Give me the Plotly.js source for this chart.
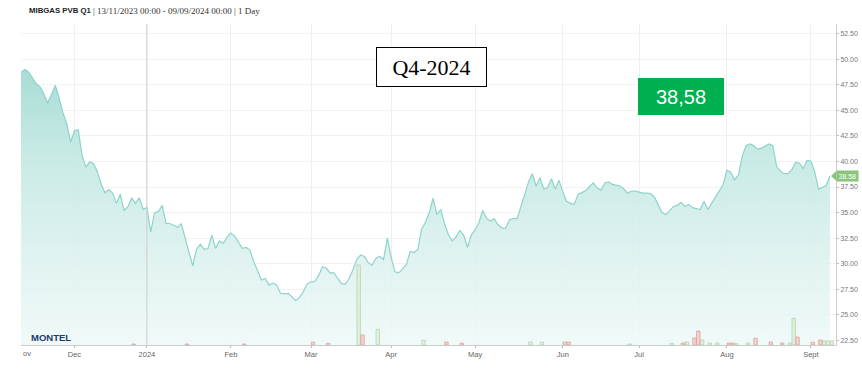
<!DOCTYPE html>
<html><head><meta charset="utf-8">
<script src="https://cdn.plot.ly/plotly-3.0.1.min.js"></script>
<style>html,body{margin:0;padding:0;background:#fff}#chart{width:862px;height:369px}</style>
</head><body><div id="chart"></div>
<script>
// ---- data ----
const startDate = '2023-11-13';
const holidays = ['2023-12-25', '2023-12-26', '2024-01-01'];
const priceValues = [
 48.73,49.0,48.75,48.2,47.6,47.3,46.6,45.7,46.5,47.45,
 46.2,44.75,43.7,41.9,43.0,43.1,40.6,39.45,39.94,39.8,
 39.0,37.8,36.93,37.25,36.9,35.9,36.8,35.22,35.55,36.4,
 35.9,36.45,35.3,35.5,33.1,34.96,35.1,35.7,33.93,33.93,
 33.75,33.55,33.9,32.45,31.25,29.79,31.4,31.9,31.4,31.48,
 32.8,31.5,32.2,32.0,32.6,33.0,32.7,32.1,31.5,31.6,
 31.3,30.2,29.3,28.4,28.55,27.9,28.1,27.9,27.1,27.05,
 27.1,26.7,26.4,26.7,27.25,28.0,28.2,28.25,28.85,29.7,
 29.55,29.1,29.1,28.55,28.05,28.0,28.55,29.4,30.4,30.85,
 30.7,30.1,29.85,30.5,30.7,30.4,32.5,30.6,29.2,29.1,
 29.55,29.9,31.2,31.09,31.4,33.4,34.05,35.0,36.4,34.8,
 35.3,33.9,32.85,32.23,32.6,33.25,32.8,31.6,32.8,33.3,
 34.0,35.2,34.45,34.15,34.4,33.8,33.5,33.45,34.3,34.41,
 34.41,35.5,36.75,38.0,38.8,37.6,38.4,37.3,37.45,38.3,
 37.3,38.15,37.0,36.1,35.9,35.8,36.8,36.95,37.15,37.55,
 37.9,37.4,37.2,37.9,38.0,37.75,37.65,37.6,37.3,36.9,
 37.1,37.1,37.0,36.9,36.9,36.85,36.5,35.7,35.0,34.8,
 35.2,35.6,35.7,36.0,35.6,35.8,35.48,35.4,35.3,36.1,
 35.3,35.9,36.5,37.15,37.75,39.15,38.95,38.2,38.65,40.5,
 41.55,41.72,41.55,41.2,41.3,41.5,41.72,41.55,39.55,39.05,
 38.8,38.8,39.2,39.9,39.85,39.3,40.1,40.05,39.0,37.3,
 37.5,37.65,38.58
];
const volUpDates = ['2024-03-19','2024-03-26','2024-04-11','2024-05-21','2024-05-24','2024-06-26',
 '2024-07-11','2024-07-17','2024-07-23','2024-07-25','2024-07-29','2024-08-05','2024-08-08',
 '2024-08-23','2024-08-26','2024-09-05','2024-09-06','2024-09-09'];
const volUpValues = [80,15.7,4.7,3,2.7,1,1.7,3,5,2,2,1.3,2,2,26.7,4,4,4];
const volDownDates = ['2023-12-22','2024-01-16','2024-02-06','2024-03-01','2024-03-07','2024-03-20',
 '2024-04-19','2024-04-25','2024-06-03','2024-06-04','2024-07-16','2024-07-19','2024-07-22',
 '2024-08-01','2024-08-02','2024-08-12','2024-08-16','2024-08-21','2024-08-27','2024-09-02','2024-09-04'];
const volDownValues = [1,1,1,2.7,1.7,10,3,2,3,3,2,7,14,2,2,6.7,3,2,8,2.7,5];
const monthTickDates = ['2023-12-01','2024-01-02','2024-02-01','2024-03-01','2024-04-01','2024-05-01',
 '2024-06-03','2024-07-01','2024-08-01','2024-09-02'];
const monthTickLabels = ['Dec','2024','Feb','Mar','Apr','May','Jun','Jul','Aug','Sept'];
const yTickValues = [22.5,25,27.5,30,32.5,35,37.5,40,42.5,45,47.5,50,52.5];
const seriesTitle = 'MIBGAS PVB Q1';
const subtitle = '| 13/11/2023 00:00 - 09/09/2024 00:00 | 1 Day';
const contractLabel = 'Q4-2024';
const lastLabel = '38,58';

// trading-day calendar (weekdays minus holidays)
function tradingDays(start, n) {
  const out = [];
  const p = start.split('-').map(Number);
  let t = Date.UTC(p[0], p[1] - 1, p[2]);
  while (out.length < n) {
    const d = new Date(t);
    const s = d.toISOString().slice(0, 10);
    const wd = d.getUTCDay();
    if (wd !== 0 && wd !== 6 && holidays.indexOf(s) < 0) out.push(s);
    t += 86400000;
  }
  return out;
}
const dates = tradingDays(startDate, priceValues.length);
const lastValue = priceValues[priceValues.length - 1];
const mid = d => d + ' 12:00';
const DAY = 86400000;

const traces = [
  {
    x: dates, y: priceValues, type: 'scatter', mode: 'lines',
    line: {color: '#8cd4ca', width: 1.2},
    fill: 'tozeroy', fillcolor: 'rgba(190,230,224,0.8)',
    fillgradient: {type: 'vertical', start: 22, stop: 49,
      colorscale: [[0, 'rgba(237,249,248,0.85)'], [0.3, 'rgba(220,241,239,0.85)'],
                   [0.7, 'rgba(190,230,224,0.85)'], [1, 'rgba(153,214,206,0.85)']]},
    hoverinfo: 'skip', showlegend: false
  },
  {
    x: volUpDates.map(mid), y: volUpValues, type: 'bar', yaxis: 'y2',
    width: 0.9 * DAY,
    marker: {color: 'rgba(222,239,218,0.9)', line: {color: '#b3d4ad', width: 0.8}},
    hoverinfo: 'skip', showlegend: false
  },
  {
    x: volDownDates.map(mid), y: volDownValues, type: 'bar', yaxis: 'y2',
    width: 0.9 * DAY,
    marker: {color: 'rgba(244,208,203,0.95)', line: {color: '#d9a39b', width: 0.8}},
    hoverinfo: 'skip', showlegend: false
  }
];

const gridFont = {family: 'Liberation Sans, Arial, sans-serif', size: 7.5, color: '#666'};

const layout = {
  width: 862, height: 369,
  margin: {l: 21, r: 26, t: 24, b: 24, pad: 0},
  paper_bgcolor: '#ffffff', plot_bgcolor: '#ffffff',
  showlegend: false, hovermode: false, barmode: 'overlay',
  xaxis: {
    type: 'date',
    range: ['2023-11-13', '2024-09-10 14:00'],
    rangebreaks: [{bounds: ['sat', 'mon']}, {values: holidays}],
    tickmode: 'array', tickvals: monthTickDates, ticktext: monthTickLabels,
    showgrid: true, gridcolor: '#efefef', gridwidth: 1,
    ticks: 'outside', ticklen: 2, tickcolor: '#bbb',
    showline: true, linecolor: '#ccc', linewidth: 1,
    zeroline: false, tickfont: gridFont, fixedrange: true
  },
  yaxis: {
    range: [22.04, 53.45], side: 'right',
    tickmode: 'array', tickvals: yTickValues, ticktext: yTickValues.map(v => v.toFixed(2)),
    showgrid: true, gridcolor: '#f2f2f2', gridwidth: 1,
    ticks: 'outside', ticklen: 2, tickcolor: '#bbb',
    showline: true, linecolor: '#ccc', linewidth: 1,
    zeroline: false, tickfont: {family: 'Liberation Sans, Arial, sans-serif', size: 7, color: '#777'},
    fixedrange: true
  },
  yaxis2: {overlaying: 'y', range: [0, 321], visible: false, fixedrange: true},
  shapes: [
    {type: 'line', xref: 'x', yref: 'paper', x0: monthTickDates[1], x1: monthTickDates[1], y0: 0, y1: 1,
     line: {color: '#cfcfcf', width: 1}, layer: 'above'},
    {type: 'path', xref: 'paper', yref: 'y',
     path: 'M 0.9939 ' + lastValue + ' L 1.0 ' + (lastValue + 0.47) + ' L 1.0 ' + (lastValue - 0.47) + ' Z',
     fillcolor: '#88c57b', line: {width: 0}, layer: 'above'}
  ],
  annotations: [
    {xref: 'paper', yref: 'paper', x: 0.0074, y: 1.0405, xanchor: 'left', yanchor: 'middle',
     text: '<b>' + seriesTitle + '</b>', showarrow: false,
     font: {family: 'Liberation Sans, Arial, sans-serif', size: 7.8, color: '#222'}},
    {xref: 'paper', yref: 'paper', x: 0.0859, y: 1.0405, xanchor: 'left', yanchor: 'middle',
     text: subtitle, showarrow: false,
     font: {family: 'Liberation Serif, Georgia, serif', size: 9, color: '#333'}},
    {xref: 'paper', yref: 'paper', x: 0.5037, y: 0.866, xanchor: 'center', yanchor: 'middle',
     text: contractLabel, showarrow: false, width: 109, height: 38,
     bgcolor: '#ffffff', bordercolor: '#000000', borderwidth: 1, borderpad: 0,
     font: {family: 'Liberation Serif, Cambria, serif', size: 22, color: '#000'}},
    {xref: 'paper', yref: 'paper', x: 0.8098, y: 0.7741, xanchor: 'center', yanchor: 'middle',
     text: lastLabel, showarrow: false, width: 86, height: 37,
     bgcolor: '#00b050', borderwidth: 0, borderpad: 0,
     font: {family: 'Liberation Sans, Calibri, sans-serif', size: 20, color: '#ffffff'}},
    {xref: 'paper', yref: 'paper', x: 0.0362, y: 0.0234, xanchor: 'center', yanchor: 'middle',
     text: '<b>MONTEL</b>', showarrow: false,
     font: {family: 'Liberation Sans, Arial, sans-serif', size: 9.5, color: '#1d3c6c'}},
    {xref: 'paper', yref: 'paper', x: 0, y: -0.026, xanchor: 'left', yanchor: 'middle',
     text: 'ov', showarrow: false, font: gridFont},
    {xref: 'paper', yref: 'y', x: 1.0, y: lastValue, xanchor: 'left', yanchor: 'middle',
     text: lastValue.toFixed(2), showarrow: false, bgcolor: '#88c57b', borderpad: 1.5,
     font: {family: 'Liberation Sans, Arial, sans-serif', size: 7, color: '#ffffff'}}
  ]
};

Plotly.newPlot('chart', traces, layout, {staticPlot: true, displayModeBar: false});
</script>
</body></html>
